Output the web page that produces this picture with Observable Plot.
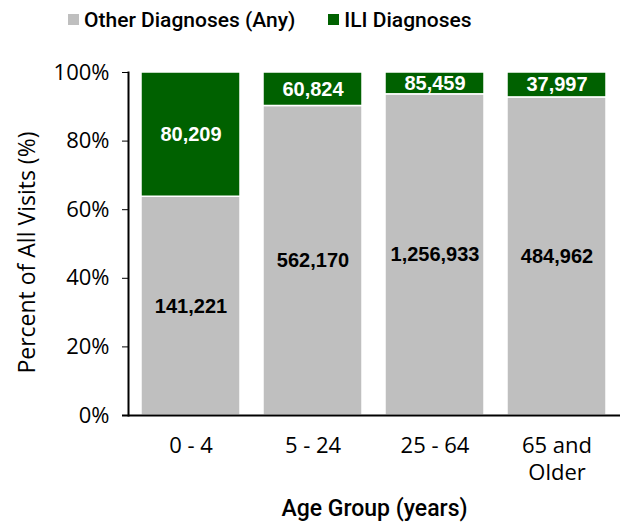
<!DOCTYPE html>
<html>
<head>
<meta charset="utf-8">
<script src="https://cdn.jsdelivr.net/npm/d3@7"></script>
<script src="https://cdn.jsdelivr.net/npm/@observablehq/plot@0.6"></script>
<style>
  body { margin: 0; background: #fff; }
  #legend { height: 40px; display: flex; justify-content: flex-start; align-items: center; gap: 33px;
    padding-left: 68px; box-sizing: border-box;
    font-family: Roboto, "DejaVu Sans Condensed", sans-serif; font-weight: 500; font-size: 21px; color: #000; }
  #legend span.sw { display: inline-block; width: 11px; height: 11px; margin-right: 5px; vertical-align: middle; position: relative; top: -2px; }
  #legend .item { white-space: nowrap; }
</style>
</head>
<body>
<div id="legend"></div>
<div id="chart"></div>
<script>
const ageGroups = ["0 - 4", "5 - 24", "25 - 64", "65 and\nOlder"];
const otherCounts = [141221, 562170, 1256933, 484962];
const iliCounts = [80209, 60824, 85459, 37997];
const seriesNames = ["Other Diagnoses (Any)", "ILI Diagnoses"];
const seriesColors = ["#bfbfbf", "#006100"];
const yTicks = [0, 0.2, 0.4, 0.6, 0.8, 1.0];

const rows = [];
ageGroups.forEach((g, i) => {
  const total = otherCounts[i] + iliCounts[i];
  rows.push({group: g, series: seriesNames[0], count: otherCounts[i], share: otherCounts[i] / total, order: 0});
  rows.push({group: g, series: seriesNames[1], count: iliCounts[i], share: iliCounts[i] / total, order: 1});
});

const legend = document.getElementById("legend");
seriesNames.forEach((s, i) => {
  const d = document.createElement("div");
  d.className = "item";
  d.innerHTML = `<span class="sw" style="background:${seriesColors[i]}"></span>${s}`;
  legend.appendChild(d);
});

const fmt = d3.format(",");
const stackOpts = {x: "group", y: "share", order: "order"};

const chart = Plot.plot({
  width: 621,
  height: 482,
  marginLeft: 128,
  marginRight: 1,
  marginTop: 32,
  marginBottom: 107,
  style: {fontFamily: "'Open Sans', sans-serif", fontSize: "22px", color: "#000", background: "#fff"},
  x: {domain: ageGroups, paddingInner: 0.185, paddingOuter: 0.098, label: null},
  y: {domain: [0, 1], ticks: yTicks, tickFormat: d3.format(".0%"), label: null},
  color: {domain: seriesNames, range: seriesColors},
  marks: [
    Plot.barY(rows, Plot.stackY({...stackOpts, fill: "series", stroke: "white", strokeWidth: 1.5})),
    Plot.text(rows, Plot.stackY({...stackOpts, text: d => fmt(d.count),
      fill: d => d.order === 1 ? "white" : "black",
      fontSize: 20, fontWeight: "bold", fontFamily: "'Liberation Sans', Arial, sans-serif"})),
    Plot.axisY({ticks: yTicks, tickFormat: d3.format(".0%"), tickSize: 6, tickPadding: 13, fontSize: 22, label: null}),
    Plot.axisX({tickSize: 0, tickPadding: 19, fontSize: 22, lineHeight: 1.2, label: null}),
    Plot.frame({anchor: "left", stroke: "black", strokeWidth: 2}),
    Plot.ruleY([0], {stroke: "black", strokeWidth: 2, insetLeft: -6}),
    Plot.text(["Age Group (years)"], {frameAnchor: "bottom", lineAnchor: "middle", dy: 93, fontSize: 23,
      fontWeight: 500, fontFamily: "Roboto, 'DejaVu Sans Condensed', sans-serif"}),
    Plot.text(["Percent of All Visits (%)"], {y: () => 0.475, frameAnchor: "left", textAnchor: "middle", lineAnchor: "middle",
      dx: -101, rotate: -90, fontSize: 23, fontFamily: "'Open Sans', sans-serif"})
  ]
});
document.getElementById("chart").appendChild(chart);
</script>
</body>
</html>
